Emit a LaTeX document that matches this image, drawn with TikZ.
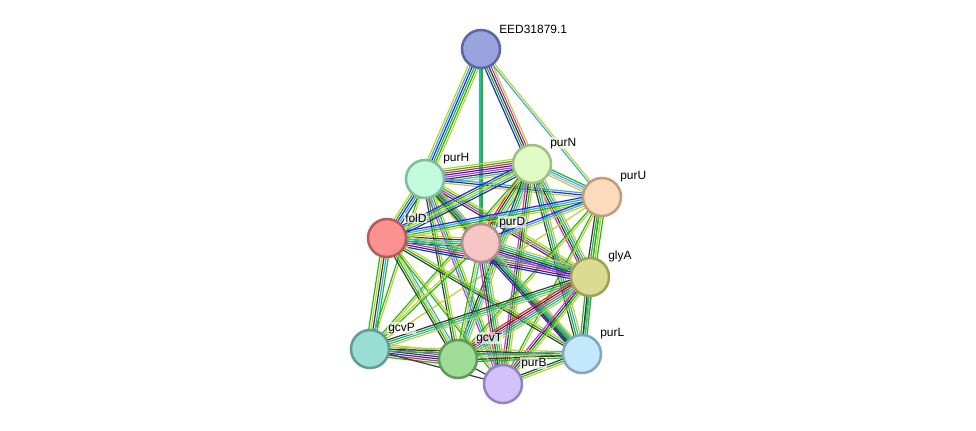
\documentclass[tikz,border=0pt]{standalone}
\usepackage{fontspec}
\setmainfont{Liberation Sans}
\usetikzlibrary{calc,backgrounds}
% evidence channel colours
\definecolor{cNbr}{HTML}{22B522}
\definecolor{cFus}{HTML}{FF2222}
\definecolor{cCoo}{HTML}{2222FF}
\definecolor{cCox}{HTML}{383838}
\definecolor{cExp}{HTML}{D030D0}
\definecolor{cDb}{HTML}{30B0D8}
\definecolor{cTxt}{HTML}{C2CF2A}
\definecolor{cHom}{HTML}{A8A8FF}
% protein colours
\definecolor{fEed}{HTML}{99A3DE}\definecolor{bEed}{HTML}{5B66A6}
\definecolor{fPurH}{HTML}{C3FBDF}\definecolor{bPurH}{HTML}{80BC9E}
\definecolor{fPurN}{HTML}{E0FCC4}\definecolor{bPurN}{HTML}{A3BD86}
\definecolor{fPurU}{HTML}{FBDBBB}\definecolor{bPurU}{HTML}{C09D7E}
\definecolor{fFolD}{HTML}{FC9191}\definecolor{bFolD}{HTML}{B75A5A}
\definecolor{fPurD}{HTML}{F8C5C5}\definecolor{bPurD}{HTML}{B48C8C}
\definecolor{fGlyA}{HTML}{DCDB92}\definecolor{bGlyA}{HTML}{A1A05B}
\definecolor{fGcvP}{HTML}{9ADDD3}\definecolor{bGcvP}{HTML}{5E9E93}
\definecolor{fGcvT}{HTML}{9FDD97}\definecolor{bGcvT}{HTML}{5E9C58}
\definecolor{fPurB}{HTML}{D1C2FB}\definecolor{bPurB}{HTML}{9781C2}
\definecolor{fPurL}{HTML}{C3E8FB}\definecolor{bPurL}{HTML}{80A7C0}
\tikzset{
  prot/.style={circle,minimum size=0.95cm,inner sep=0pt,line width=1.8pt},
  plbl/.style={font=\fontsize{8.5}{10}\selectfont,fill=white,fill opacity=0.65,
    text opacity=1,inner sep=0.6pt,label distance=1.5pt},
  evline/.style={line width=0.85pt},
}
% one connector = several parallel evidence lines
\newcommand{\plink}[3]{%
  \foreach \ec [count=\k] in {#3}{\xdef\nlk{\k}}%
  \foreach \ec [count=\k] in {#3}{%
    \pgfmathsetmacro{\off}{(\k-(\nlk+1)/2)*1.5}%
    \draw[evline,draw=\ec] ($(#1)!\off pt!90:(#2)$) -- ($(#2)!\off pt!-90:(#1)$);
  }%
}

\begin{document}
\begin{tikzpicture}[x=0.025cm,y=-0.025cm]
  \useasboundingbox (0,0) rectangle (976,430);
  % proteins
  \node[prot,fill=fEed,draw=bEed] (eed) at (481,49) [label={[plbl]40:EED31879.1}] {};
  \node[prot,fill=fPurH,draw=bPurH] (purH) at (425,179) [label={[plbl]40:purH}] {};
  \node[prot,fill=fPurN,draw=bPurN] (purN) at (532,164) [label={[plbl]40:purN}] {};
  \node[prot,fill=fPurU,draw=bPurU] (purU) at (602,197) [label={[plbl]40:purU}] {};
  \node[prot,fill=fFolD,draw=bFolD] (folD) at (387,238) [label={[plbl]40:folD}] {};
  \node[prot,fill=fPurD,draw=bPurD] (purD) at (481,243) [label={[plbl]40:purD}] {};
  \node[prot,fill=fGlyA,draw=bGlyA] (glyA) at (590,277) [label={[plbl]40:glyA}] {};
  \node[prot,fill=fGcvP,draw=bGcvP] (gcvP) at (370,349) [label={[plbl]40:gcvP}] {};
  \node[prot,fill=fGcvT,draw=bGcvT] (gcvT) at (458,359) [label={[plbl]40:gcvT}] {};
  \node[prot,fill=fPurB,draw=bPurB] (purB) at (503,384) [label={[plbl]40:purB}] {};
  \node[prot,fill=fPurL,draw=bPurL] (purL) at (582,354) [label={[plbl]40:purL}] {};

  \begin{scope}[on background layer]
    \plink{eed}{purH}{cTxt,cDb,cCoo,cNbr,cNbr,cTxt}
    \plink{eed}{purD}{cDb,cNbr}
    \plink{eed}{purN}{cCoo,cNbr,cCox,cExp,cTxt}
    \plink{eed}{purU}{cDb,cTxt}
    \plink{purH}{purN}{cTxt,cDb,cCox,cExp,cCoo,cFus,cNbr,cTxt}
    \plink{purH}{purU}{cTxt,cCoo,cDb}
    \plink{purH}{folD}{cTxt,cNbr,cCoo,cDb,cCox}
    \plink{purH}{purD}{cTxt,cNbr,cCox,cExp,cDb}
    \plink{purH}{glyA}{cCox,cExp,cNbr,cTxt}
    \plink{purH}{gcvP}{cNbr,cTxt}
    \plink{purH}{gcvT}{cCox,cNbr,cTxt}
    \plink{purH}{purB}{cExp,cDb,cNbr,cTxt}
    \plink{purH}{purL}{cCox,cNbr,cDb,cTxt}
    \plink{purN}{purU}{cTxt,cHom,cDb,cNbr}
    \plink{purN}{folD}{cCoo,cNbr,cTxt,cDb,cCox}
    \plink{purN}{purD}{cFus,cCox,cNbr,cTxt,cDb}
    \plink{purN}{glyA}{cExp,cCox,cNbr,cDb,cTxt}
    \plink{purN}{gcvP}{cNbr,cTxt}
    \plink{purN}{gcvT}{cCox,cNbr,cDb,cTxt}
    \plink{purN}{purB}{cExp,cCox,cNbr,cTxt}
    \plink{purN}{purL}{cCox,cNbr,cDb,cTxt}
    \plink{purU}{folD}{cCoo,cDb,cNbr,cTxt}
    \plink{purU}{purD}{cCoo,cDb,cTxt}
    \plink{purU}{glyA}{cCox,cNbr,cDb,cTxt,cNbr}
    \plink{purU}{gcvP}{cTxt}
    \plink{purU}{gcvT}{cNbr,cTxt}
    \plink{purU}{purB}{cNbr,cTxt}
    \plink{purU}{purL}{cNbr,cTxt}
    \plink{folD}{purD}{cCoo,cNbr,cDb,cCox,cTxt}
    \plink{folD}{glyA}{cCoo,cCox,cExp,cNbr,cDb,cTxt}
    \plink{folD}{gcvP}{cNbr,cTxt,cCox,cDb,cNbr}
    \plink{folD}{gcvT}{cCox,cNbr,cTxt,cDb}
    \plink{folD}{purB}{cNbr,cTxt}
    \plink{folD}{purL}{cCox,cNbr,cTxt}
    \plink{purD}{glyA}{cExp,cCoo,cCox,cNbr,cDb,cTxt}
    \plink{purD}{gcvP}{cTxt,cNbr}
    \plink{purD}{gcvT}{cNbr,cTxt,cDb}
    \plink{purD}{purB}{cExp,cCox,cNbr,cDb,cTxt}
    \plink{purD}{purL}{cCoo,cCox,cNbr,cDb,cTxt}
    \plink{glyA}{gcvP}{cCox,cNbr,cDb,cTxt}
    \plink{glyA}{gcvT}{cFus,cCox,cExp,cNbr,cDb,cTxt}
    \plink{glyA}{purB}{cExp,cCox,cNbr,cTxt}
    \plink{glyA}{purL}{cNbr,cCox,cDb,cNbr}
    \plink{gcvP}{gcvT}{cNbr,cFus,cCoo,cCox,cExp,cDb,cTxt}
    \plink{gcvP}{purB}{cCox}
    \plink{gcvP}{purL}{cNbr,cCox,cTxt}
    \plink{gcvT}{purB}{cCox}
    \plink{gcvT}{purL}{cNbr,cCox,cTxt,cDb}
    \plink{purB}{purL}{cTxt,cNbr,cCox}
  \end{scope}
\end{tikzpicture}
\end{document}
